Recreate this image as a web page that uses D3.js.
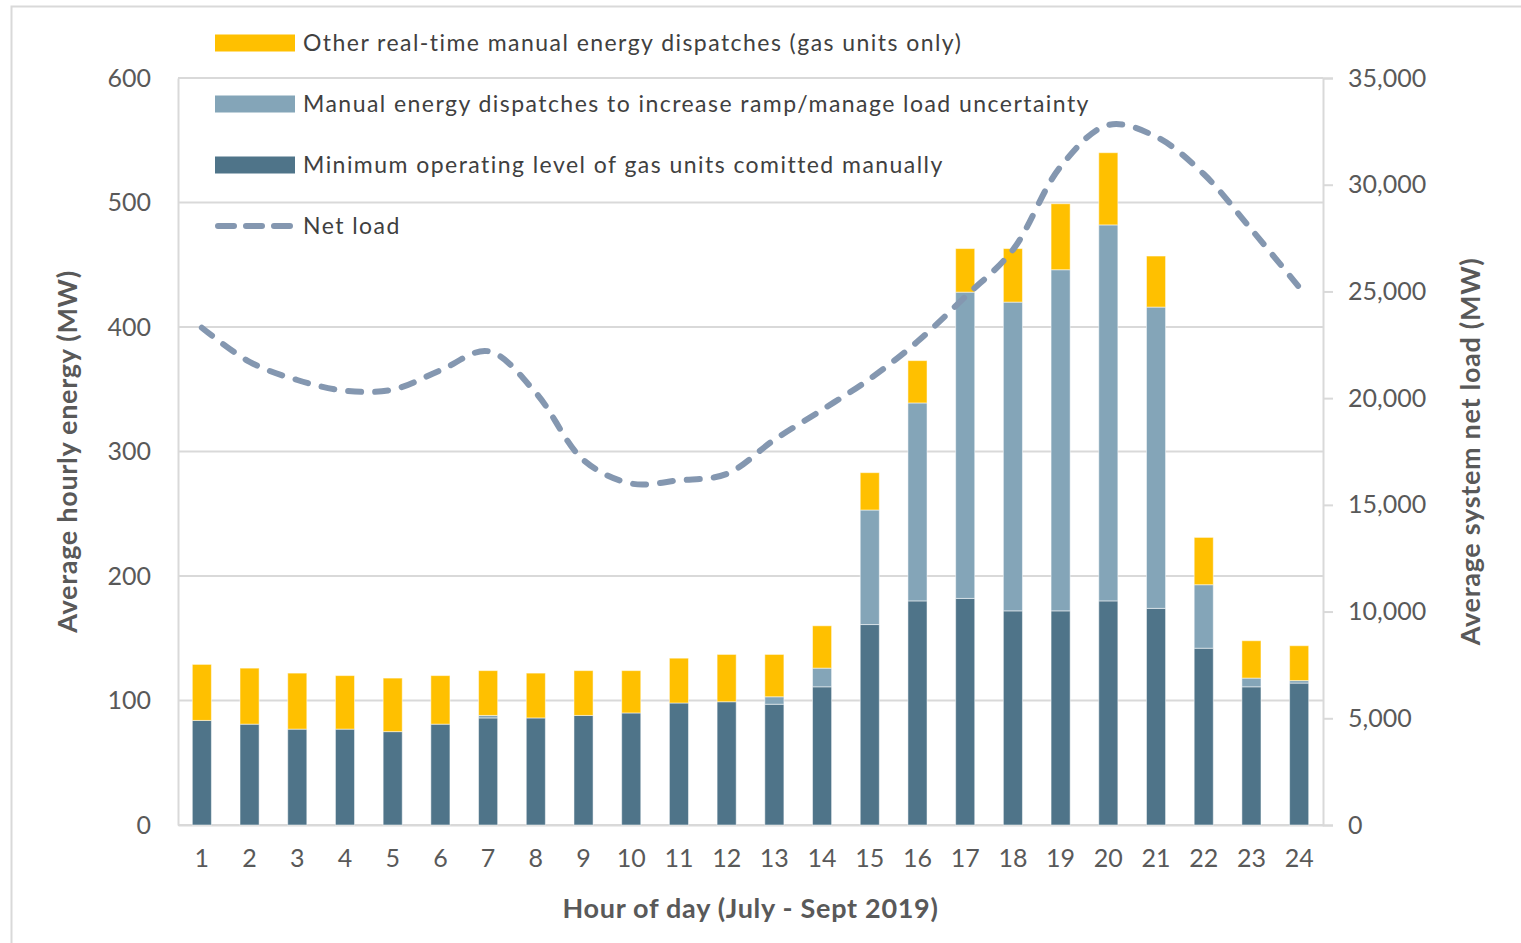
<!DOCTYPE html>
<html>
<head>
<meta charset="utf-8">
<script src="https://cdn.jsdelivr.net/npm/d3@7"></script>
<style>
  body { margin: 0; background: #fff; }
  svg { display: block; font-family: Lato, "Open Sans", sans-serif; }
</style>
</head>
<body>
<div id="chart"></div>
<script>
// 1. Data
const hours = d3.range(1, 25).map(String)
const minLevel  = [84, 81, 77, 77, 75, 81, 86, 86, 88, 90, 98, 99, 97, 111, 161, 180, 182, 172, 172, 180, 174, 142, 111, 114]
const rampUnc   = [0, 0, 0, 0, 0, 0, 2, 0, 0, 0, 0, 0, 6, 15, 92, 159, 246, 248, 274, 302, 242, 51, 7, 2]
const otherRT   = [45, 45, 45, 43, 43, 39, 36, 36, 36, 34, 36, 38, 34, 34, 30, 34, 35, 43, 53, 58, 41, 38, 30, 28]
const netLoad   = [23300, 21700, 20850, 20350, 20400, 21300, 22200, 20250, 17100, 16000, 16150, 16450,
                   18050, 19450, 20900, 22650, 24750, 26950, 30850, 32800, 32250, 30500, 27900, 25200]

const seriesKeys = ["min", "ramp", "other"]
const seriesNames = {
  other: "Other real-time manual energy dispatches (gas units only)",
  ramp: "Manual energy dispatches to increase ramp/manage load uncertainty",
  min: "Minimum operating level of gas units comitted manually",
}
const colors = { min: "#4F7489", ramp: "#84A5B8", other: "#FFC000" }
const lineColor = "#8497B0"

const table = hours.map((h, i) => ({ hour: h, min: minLevel[i], ramp: rampUnc[i], other: otherRT[i], load: netLoad[i] }))

// 2. Dimensions
const dimensions = {
  width: 1521,
  height: 943,
  margin: { top: 78, right: 198, bottom: 118, left: 178 },
}
dimensions.boundedWidth = dimensions.width - dimensions.margin.left - dimensions.margin.right
dimensions.boundedHeight = dimensions.height - dimensions.margin.top - dimensions.margin.bottom

// 3. Canvas
const wrapper = d3.select("#chart").append("svg")
  .attr("width", dimensions.width)
  .attr("height", dimensions.height)

// outer chart border
wrapper.append("path")
  .attr("d", `M11.5,${dimensions.height} V6.5 H${dimensions.width}`)
  .attr("fill", "none").attr("stroke", "#D9D9D9").attr("stroke-width", 2)

const bounds = wrapper.append("g")
  .attr("transform", `translate(${dimensions.margin.left},${dimensions.margin.top})`)

// 4. Scales
const xScale = d3.scaleBand()
  .domain(hours)
  .range([0, dimensions.boundedWidth])
  .paddingInner(0.6)
  .paddingOuter(0.3)

const yScale = d3.scaleLinear().domain([0, 600]).range([dimensions.boundedHeight, 0])
const y2Scale = d3.scaleLinear().domain([0, 35000]).range([dimensions.boundedHeight, 0])

// gridlines
bounds.append("g")
  .selectAll("line")
  .data(yScale.ticks(6))
  .join("line")
    .attr("x1", 0).attr("x2", dimensions.boundedWidth)
    .attr("y1", d => yScale(d)).attr("y2", d => yScale(d))
    .attr("stroke", "#D9D9D9").attr("stroke-width", 2)

// axes
const tickColor = "#595959"
const yAxis = bounds.append("g")
  .call(d3.axisLeft(yScale).ticks(6).tickSize(0).tickPadding(27))
yAxis.select(".domain").attr("stroke", "#D9D9D9").attr("stroke-width", 2)

const y2Axis = bounds.append("g")
  .attr("transform", `translate(${dimensions.boundedWidth},0)`)
  .call(d3.axisRight(y2Scale).tickValues(d3.range(0, 35001, 5000)).tickSize(10).tickPadding(15).tickFormat(d3.format(",")))
y2Axis.select(".domain").attr("stroke", "#D9D9D9").attr("stroke-width", 2)
y2Axis.selectAll(".tick line").attr("stroke", "#D9D9D9").attr("stroke-width", 2)

const xAxis = bounds.append("g")
  .attr("transform", `translate(0,${dimensions.boundedHeight})`)
  .call(d3.axisBottom(xScale).tickSize(0).tickPadding(24))
xAxis.select(".domain").attr("stroke", "#D9D9D9").attr("stroke-width", 2)

wrapper.selectAll(".tick text")
  .attr("fill", tickColor)
  .style("font-size", "25px")
  .style("font-family", "Lato, sans-serif")

// 5. Bars
const stacked = d3.stack().keys(seriesKeys)(table)
bounds.append("g")
  .selectAll("g")
  .data(stacked)
  .join("g")
    .attr("fill", d => colors[d.key])
  .selectAll("rect")
  .data(d => d.filter(p => p[1] > p[0]))
  .join("rect")
    .attr("x", d => xScale(d.data.hour))
    .attr("y", d => yScale(d[1]))
    .attr("width", xScale.bandwidth())
    .attr("height", d => yScale(d[0]) - yScale(d[1]))
    .attr("stroke", "#ffffff")
    .attr("stroke-opacity", 0.5)
    .attr("stroke-width", 1)

// net load line
const lineGenerator = d3.line()
  .x(d => xScale(d.hour) + xScale.bandwidth() / 2)
  .y(d => y2Scale(d.load))
  .curve(d3.curveCatmullRom.alpha(0.5))

bounds.append("path")
  .datum(table)
  .attr("d", lineGenerator)
  .attr("fill", "none")
  .attr("stroke", lineColor)
  .attr("stroke-width", 6)
  .attr("stroke-linecap", "round")
  .attr("stroke-dasharray", "13 14")

// 6. Legend
const legendItems = ["other", "ramp", "min", "load"]
const legend = wrapper.append("g").attr("transform", "translate(215,43)")
legendItems.forEach((key, i) => {
  const g = legend.append("g").attr("transform", `translate(0,${i * 61})`)
  if (key === "load") {
    g.append("line")
      .attr("x1", 3).attr("x2", 77).attr("y1", 0).attr("y2", 0)
      .attr("stroke", lineColor).attr("stroke-width", 6)
      .attr("stroke-linecap", "round").attr("stroke-dasharray", "16 12")
  } else {
    g.append("rect")
      .attr("x", 0).attr("y", -8.5).attr("width", 80).attr("height", 17)
      .attr("fill", colors[key])
  }
  g.append("text")
    .attr("x", 88).attr("y", 0)
    .attr("dy", "0.35em")
    .attr("fill", "#404040")
    .style("font-size", "23px")
    .style("letter-spacing", "1.45px")
    .text(key === "load" ? "Net load" : seriesNames[key])
})

// 7. Axis titles
const titleStyle = sel => sel
  .attr("fill", "#595959")
  .attr("text-anchor", "middle")
  .style("font-size", "27px")
  .style("letter-spacing", "0.7px")
  .style("font-weight", "bold")

wrapper.append("text")
  .call(titleStyle)
  .attr("transform", `translate(77,${dimensions.margin.top + dimensions.boundedHeight / 2}) rotate(-90)`)
  .text("Average hourly energy (MW)")

wrapper.append("text")
  .call(titleStyle)
  .attr("transform", `translate(1480,${dimensions.margin.top + dimensions.boundedHeight / 2}) rotate(-90)`)
  .text("Average system net load (MW)")

wrapper.append("text")
  .call(titleStyle)
  .attr("x", dimensions.margin.left + dimensions.boundedWidth / 2)
  .attr("y", 918)
  .text("Hour of day (July - Sept 2019)")
</script>
</body>
</html>
